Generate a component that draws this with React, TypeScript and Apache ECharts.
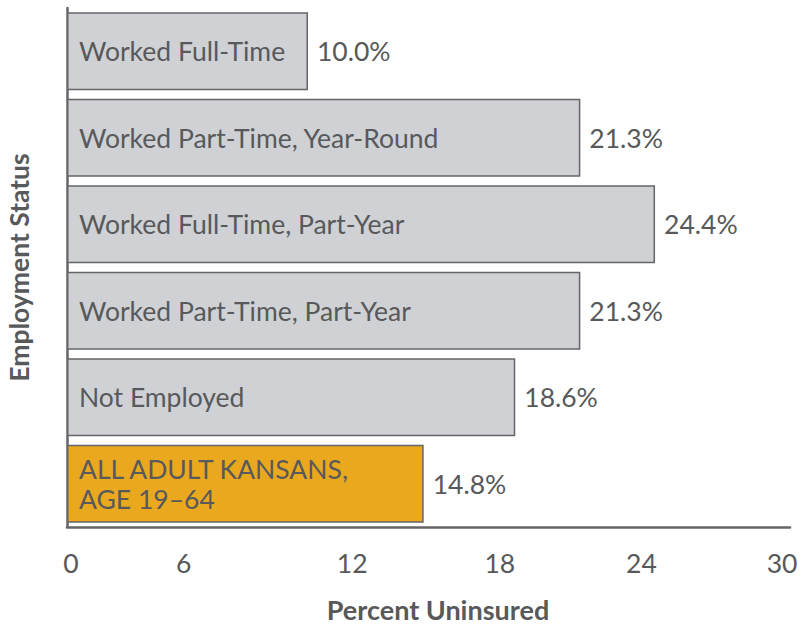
import React, { useEffect, useRef } from "react";
import * as echarts from "echarts";

const categories = [
  "Worked Full-Time",
  "Worked Part-Time, Year-Round",
  "Worked Full-Time, Part-Year",
  "Worked Part-Time, Part-Year",
  "Not Employed",
  "ALL ADULT KANSANS,\nAGE 19\u201364",
];
const values = [10.0, 21.3, 24.4, 21.3, 18.6, 14.8];
const highlightIndex = 5;
const xTicks = [0, 6, 12, 18, 24, 30];

const GRAY = "#cfd1d5";
const ORANGE = "#eaa81f";
const BORDER = "#646568";
const TEXT = "#58595b";
const FONT = "Lato, 'Open Sans', sans-serif";
const FS = 26.5;

export default function App() {
  const ref = useRef<HTMLDivElement>(null);
  useEffect(() => {
    if (!ref.current) return;
    const chart = echarts.init(ref.current, undefined, { renderer: "svg" });
    const tickPad: Record<number, number[]> = {
      0: [0, 0, 0, 8],
      6: [0, 56, 0, 0],
      12: [0, 8, 0, 0],
      18: [0, 2, 0, 0],
      24: [0, 8, 0, 0],
      30: [0, 16, 0, 0],
    };
    const rich: Record<string, any> = {};
    xTicks.forEach((t) => {
      rich["t" + t] = { fontSize: FS, color: TEXT, fontFamily: FONT, padding: tickPad[t] };
    });
    chart.setOption({
      animation: false,
      textStyle: { fontFamily: FONT },
      grid: {
        left: 67,
        right: 11,
        top: 8,
        bottom: 99,
        containLabel: false,
        outerBoundsMode: "none",
      },
      xAxis: {
        type: "value",
        min: 0,
        max: 30,
        interval: 6,
        name: "Percent Uninsured",
        nameLocation: "middle",
        nameGap: 69,
        nameTextStyle: {
          fontSize: 27,
          lineHeight: 27,
          fontWeight: "bold",
          color: TEXT,
          fontFamily: FONT,
          padding: [0, 0, 0, 19],
        },
        axisLine: { show: true, lineStyle: { color: BORDER, width: 2.5 } },
        axisTick: { show: false },
        splitLine: { show: false },
        axisLabel: {
          margin: 22,
          formatter: (v: number) => `{t${v}|${v}}`,
          rich,
        },
      },
      yAxis: {
        type: "category",
        data: categories,
        inverse: true,
        name: "Employment Status",
        nameLocation: "middle",
        nameGap: 35,
        nameTextStyle: { fontSize: 26.5, fontWeight: "bold", color: TEXT, fontFamily: FONT },
        axisLine: { show: true, lineStyle: { color: BORDER, width: 2.5 } },
        axisTick: { show: false },
        axisLabel: { show: false },
      },
      series: [
        {
          type: "bar",
          barCategoryGap: "10%",
          data: values.map((v, i) => ({
            value: v,
            itemStyle: {
              color: i === highlightIndex ? ORANGE : GRAY,
              borderColor: BORDER,
              borderWidth: 1.5,
            },
          })),
          label: {
            show: true,
            position: "insideLeft",
            distance: 12,
            formatter: (p: any) => categories[p.dataIndex],
            fontSize: FS,
            lineHeight: 30,
            color: TEXT,
            fontFamily: FONT,
            align: "left",
          },
        },
        {
          type: "bar",
          barGap: "-100%",
          barCategoryGap: "10%",
          silent: true,
          data: values,
          itemStyle: { color: "rgba(0,0,0,0)" },
          label: {
            show: true,
            position: "right",
            distance: 9,
            formatter: (p: any) => Number(p.value).toFixed(1) + "%",
            fontSize: FS,
            color: TEXT,
            fontFamily: FONT,
          },
        },
      ],
    });
    return () => chart.dispose();
  }, []);
  return <div ref={ref} style={{ width: 801, height: 626, position: "absolute", left: 0, top: 0 }} />;
}
